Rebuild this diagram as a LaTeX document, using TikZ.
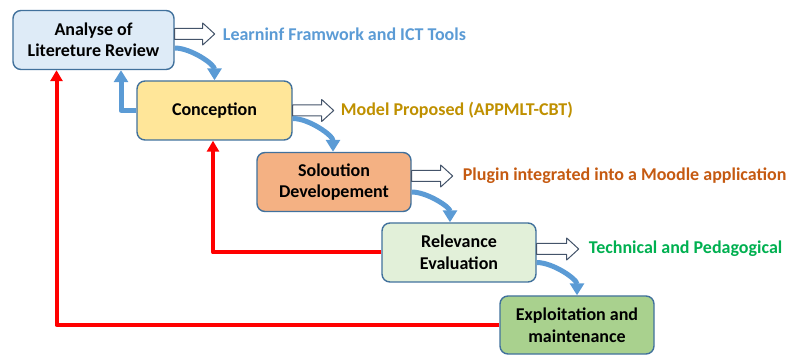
\documentclass[tikz,border=0pt]{standalone}
\usepackage{fontspec}
\setmainfont{Carlito}
\usetikzlibrary{arrows.meta}
\definecolor{boxline}{HTML}{41719C}
\definecolor{fillA}{HTML}{DEEBF7}
\definecolor{fillB}{HTML}{FFE699}
\definecolor{fillC}{HTML}{F4B183}
\definecolor{fillD}{HTML}{E2F0D9}
\definecolor{fillE}{HTML}{A9D18E}
\definecolor{flowblue}{HTML}{5B9BD5}
\definecolor{txtblue}{HTML}{5B9BD5}
\definecolor{txtgold}{HTML}{BF9000}
\definecolor{txtorange}{HTML}{C55A11}
\definecolor{txtgreen}{HTML}{00B050}
\definecolor{hollowline}{HTML}{44546A}
\begin{document}
\begin{tikzpicture}[x=1pt, y=-1pt, line join=round,
	font=\fontsize{18}{21.5}\selectfont\bfseries,
	phase/.style={draw=boxline, line width=1.4pt, rounded corners=8pt, minimum height=59pt, align=center, inner sep=2pt},
	flow/.style={draw=flowblue, line width=5pt, -{Triangle[width=14pt,length=12pt]}},
	loopback/.style={draw=red, line width=4pt, -{Triangle[width=12pt,length=11pt]}},
	hollow/.style={draw=hollowline, fill=white, line width=1pt},
	result/.style={anchor=west, inner sep=0pt}]
	\useasboundingbox (0,0) rectangle (787,355);
	% phases
	\node[phase, fill=fillA, minimum width=161pt] (b1) at (93.5,40) {Analyse of\\Litereture Review};
	\node[phase, fill=fillB, minimum width=155pt] (b2) at (214.5,110.5) {Conception};
	\node[phase, fill=fillC, minimum width=154pt] (b3) at (334,182) {Soloution\\Developement};
	\node[phase, fill=fillD, minimum width=154pt] (b4) at (459,252.5) {Relevance\\Evaluation};
	\node[phase, fill=fillE, minimum width=154pt, minimum height=58pt] (b5) at (577,325) {Exploitation and\\maintenance};
	% outputs
	\draw[hollow] ([yshift=6pt]b1.east) ++(0,-5.5) -- ++(28,0) -- ++(0,-5.5) -- ++(12,11) -- ++(-12,11) -- ++(0,-5.5) -- ++(-28,0) -- cycle;
	\draw[hollow] ([yshift=0pt]b2.east) ++(0,-5.5) -- ++(29,0) -- ++(0,-5.5) -- ++(12,11) -- ++(-12,11) -- ++(0,-5.5) -- ++(-29,0) -- cycle;
	\draw[hollow] ([yshift=6pt]b3.east) ++(0,-5.5) -- ++(29,0) -- ++(0,-5.5) -- ++(12,11) -- ++(-12,11) -- ++(0,-5.5) -- ++(-29,0) -- cycle;
	\draw[hollow] ([yshift=3.5pt]b4.east) ++(0,-5.5) -- ++(30,0) -- ++(0,-5.5) -- ++(12,11) -- ++(-12,11) -- ++(0,-5.5) -- ++(-30,0) -- cycle;
	\node[result, text=txtblue] (r1) at ([xshift=48pt,yshift=6pt]b1.east) {Learninf Framwork and ICT Tools};
	\node[result, text=txtgold] (r2) at ([xshift=48pt]b2.east) {Model Proposed (APPMLT-CBT)};
	\node[result, text=txtorange] (r3) at ([xshift=51pt,yshift=6pt]b3.east) {Plugin integrated into a Moodle application};
	\node[result, text=txtgreen] (r4) at ([xshift=52pt,yshift=3.5pt]b4.east) {Technical and Pedagogical};
	% flow
	\draw[flow] ([yshift=-8pt]b1.east) to[out=0, in=90, looseness=0.8] (b2.north);
	\draw[flow] ([yshift=-8pt]b2.east) to[out=0, in=90, looseness=0.8] ([xshift=-1pt]b3.north);
	\draw[flow] ([yshift=-10pt]b3.east) to[out=0, in=90, looseness=0.8] ([xshift=-9pt]b4.north);
	\draw[flow] ([yshift=-10pt]b4.east) to[out=0, in=90, looseness=0.8] (b5.north);
	\draw[flow] (b2.west) -| ([xshift=27.5pt]b1.south);
	% feedback
	\draw[loopback] (b4.west) -| ([xshift=-1.5pt]b2.south);
	\draw[loopback] (b5.west) -| ([xshift=-37pt]b1.south);
\end{tikzpicture}
\end{document}
